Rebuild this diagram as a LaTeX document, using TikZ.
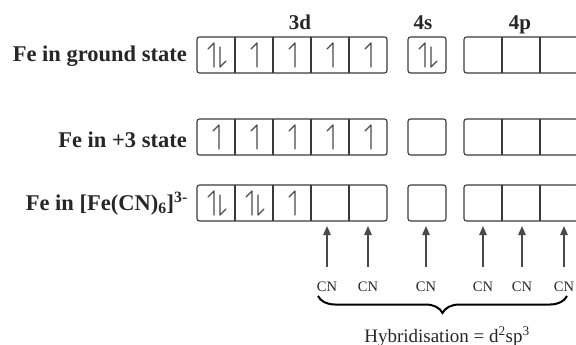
\documentclass[tikz,border=0pt]{standalone}
\usepackage{fontspec}
\setmainfont{Liberation Serif}
\usetikzlibrary{decorations.pathreplacing,arrows.meta}
\definecolor{boxc}{HTML}{3A3A3A}
\definecolor{elc}{HTML}{4A4A4A}
\definecolor{txt}{HTML}{262626}
\tikzset{
  pics/eup/.style={code={\draw[el] (0,12) -- (0,-12) -- (-6,-6);}},
  pics/edown/.style={code={\draw[el] (0,-8) -- (0,12) -- (6,6);}},
  pics/single/.style={code={\pic at (3,0) {eup};}},
  pics/pair/.style={code={\pic at (-2,0) {eup}; \pic at (4,0) {edown};}}
}
\begin{document}
\begin{tikzpicture}[x=1pt,y=-1pt,
  cell/.style={minimum width=38pt,minimum height=36pt,inner sep=0pt,outer sep=0pt},
  grp/.style={draw=boxc,line width=1.1pt,rounded corners=2.5pt},
  div/.style={draw=boxc,line width=1.1pt},
  el/.style={draw=elc,line width=1.3pt,line cap=round,line join=round},
  rowlab/.style={anchor=base east,inner sep=0pt,text=txt,font=\fontsize{22.5}{22.5}\selectfont\bfseries},
  shell/.style={anchor=base,inner sep=0pt,text=txt,font=\fontsize{21}{21}\selectfont\bfseries},
  lig/.style={anchor=base,inner sep=0pt,text=txt,font=\fontsize{14.5}{14.5}\selectfont},
  hyb/.style={anchor=base,inner sep=0pt,text=txt,font=\fontsize{19}{19}\selectfont},
  arr/.style={draw=elc,line width=1.3pt,-{Triangle[length=9pt,width=7.5pt]},shorten <=14pt,shorten >=5pt},
  brc/.style={draw=black,line width=2pt,decorate,decoration={brace,amplitude=17pt}}
]
\useasboundingbox (0,0) rectangle (576,345);

% orbital cells: rows a (ground state), b (+3 state), c (complex)
\foreach \r/\y in {a/55,b/137,c/203}{
  \foreach \i/\x in {1/216,2/254,3/292,4/330,5/368}
    \node[cell] (\r d\i) at (\x,\y) {};
  \node[cell] (\r s) at (427,\y) {};
  \foreach \i/\x in {1/483,2/521,3/559}
    \node[cell] (\r p\i) at (\x,\y) {};
}

% box outlines and dividers
\foreach \r in {a,b,c}{
  \draw[grp] (\r d1.north west) rectangle (\r d5.south east);
  \foreach \i in {1,...,4}
    \draw[div] (\r d\i.north east) -- (\r d\i.south east);
  \draw[grp] (\r s.north west) rectangle (\r s.south east);
  \draw[grp] (\r p1.north west) rectangle (\r p3.south east);
  \draw[div] (\r p1.north east) -- (\r p1.south east);
  \draw[div] (\r p2.north east) -- (\r p2.south east);
}

% electrons
\pic at (ad1) {pair};
\foreach \i in {2,...,5} \pic at (ad\i) {single};
\pic at (as) {pair};
\foreach \i in {1,...,5} \pic at (bd\i) {single};
\pic at (cd1) {pair};
\pic at (cd2) {pair};
\pic at (cd3) {single};

% shell labels
\node[shell] (l3d) at (300,30) {3d};
\node[shell] (l4s) at (423,30) {4s};
\node[shell] (l4p) at (520,30) {4p};

% row labels
\node[rowlab] (ra) at (187,62) {Fe in ground state};
\node[rowlab] (rb) at (187,147) {Fe in +3 state};
\node[rowlab] (rc) at (188,210) {Fe in [Fe(CN)\textsubscript{6}]\textsuperscript{3-}};

% ligands donating into the hybrid orbitals
\node[lig] (cn1) at (327,291) {CN};
\node[lig] (cn2) at (368,291) {CN};
\node[lig] (cn3) at (426,291) {CN};
\node[lig] (cn4) at (483,291) {CN};
\node[lig] (cn5) at (522,291) {CN};
\node[lig] (cn6) at (564,291) {CN};
\draw[arr] (cn1.north) -- (cn1.north |- cd4.south);
\draw[arr] (cn2.north) -- (cn2.north |- cd5.south);
\draw[arr] (cn3.north) -- (cn3.north |- cs.south);
\draw[arr] (cn4.north) -- (cn4.north |- cp1.south);
\draw[arr] (cn5.north) -- (cn5.north |- cp2.south);
\draw[arr] (cn6.north) -- (cn6.north |- cp3.south);

% brace and hybridisation label
\coordinate (bR) at (567,296);
\coordinate (bL) at (318,296);
\draw[brc] (bR) -- (bL);
\node[hyb] (hyb) at (447,342) {Hybridisation = d\textsuperscript{2}sp\textsuperscript{3}};
\end{tikzpicture}
\end{document}
